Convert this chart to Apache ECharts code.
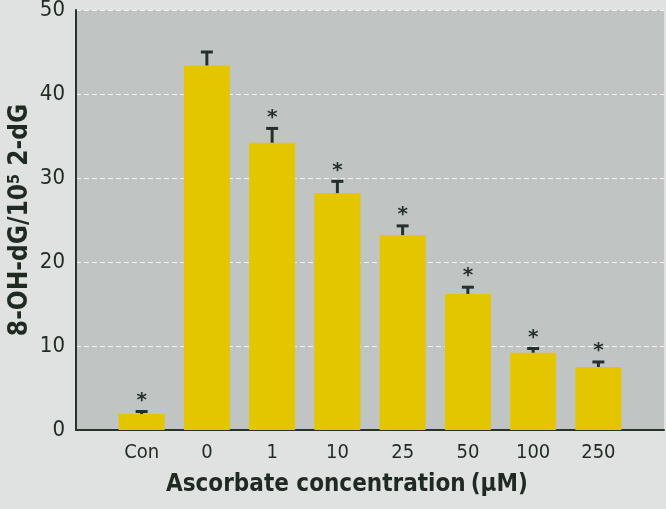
<!DOCTYPE html>
<html>
<head>
<meta charset="utf-8">
<style>
  html, body { margin: 0; padding: 0; background: #dfe2e1; }
  #chart { width: 666px; height: 509px; }
</style>
<script src="https://cdn.jsdelivr.net/npm/echarts@6/dist/echarts.min.js"></script>
</head>
<body>
<div id="chart"></div>
<script>
var categories = ['Con', '0', '1', '10', '25', '50', '100', '250'];
var means = [1.9, 43.4, 34.2, 28.2, 23.2, 16.2, 9.2, 7.5];
var upper = [2.2, 45.0, 35.9, 29.6, 24.3, 17.0, 9.7, 8.1];
var marked = [1, 0, 1, 1, 1, 1, 1, 1];

var narrow = "'Liberation Sans Narrow', 'DejaVu Sans Condensed', sans-serif";
var ink = '#1f2b22';

var chart = echarts.init(document.getElementById('chart'));

var errData = categories.map(function (c, i) {
    return [i, means[i], upper[i], marked[i]];
});

var option = {
    backgroundColor: '#dfe2e1',
    animation: false,
    title: {
        left: 161,
        top: 468,
        text: '{b|Ascorbate concentration} {n|(μM)}',
        textStyle: {
            rich: {
                b: { fontFamily: narrow, fontWeight: 'bold', fontSize: 24, color: ink },
                n: { fontFamily: narrow, fontSize: 24, color: ink }
            }
        }
    },
    grid: [
        { left: 76, right: 2, top: 10, bottom: 79, show: true, backgroundColor: '#c0c5c4', borderWidth: 0, outerBoundsMode: 'none' },
        { left: 109, right: 35, top: 10, bottom: 79, outerBoundsMode: 'none' }
    ],
    xAxis: [
        {
            type: 'value', gridIndex: 0, min: 0, max: 1,
            axisLine: { show: true, lineStyle: { color: '#26352a', width: 2 } },
            axisTick: { show: false }, axisLabel: { show: false }, splitLine: { show: false }
        },
        {
            type: 'category', gridIndex: 1, data: categories,
            axisLine: { show: false }, axisTick: { show: false },
            axisLabel: { fontFamily: narrow, fontSize: 20, color: ink, margin: 13 }
        }
    ],
    yAxis: [
        {
            type: 'value', gridIndex: 0, min: 0, max: 50, interval: 10,
            axisLine: { show: true, lineStyle: { color: '#26352a', width: 2 } },
            axisTick: { show: false },
            axisLabel: { fontFamily: narrow, fontSize: 22, color: ink, margin: 11 },
            splitLine: { show: true, lineStyle: { color: '#f2f4f3', type: [5, 3], width: 1 } },
            name: '{a|8-OH-dG/10}{s|5}{a| 2-dG}',
            nameLocation: 'middle',
            nameRotate: 90,
            nameGap: 42,
            nameMoveOverlap: false,
            nameTextStyle: {
                rich: {
                    a: { fontFamily: narrow, fontWeight: 'bold', fontSize: 26, color: ink },
                    s: { fontFamily: narrow, fontWeight: 'bold', fontSize: 16, color: ink, verticalAlign: 'top', padding: [0, 0, 11, 0] }
                }
            }
        },
        {
            type: 'value', gridIndex: 1, min: 0, max: 50, interval: 10, show: false
        }
    ],
    series: [
        {
            type: 'bar',
            xAxisIndex: 1, yAxisIndex: 1,
            data: means,
            barWidth: 46,
            itemStyle: { color: '#e3c500' },
            z: 3
        },
        {
            type: 'custom',
            xAxisIndex: 1, yAxisIndex: 1,
            data: errData,
            z: 4,
            renderItem: function (params, api) {
                var x = api.coord([api.value(0), 0])[0];
                var yTop = api.coord([api.value(0), api.value(1)])[1];
                var yCap = api.coord([api.value(0), api.value(2)])[1];
                var children = [
                    { type: 'line', shape: { x1: x, y1: yTop, x2: x, y2: yCap }, style: { stroke: '#26302a', lineWidth: 3 } },
                    { type: 'line', shape: { x1: x - 6, y1: yCap, x2: x + 6, y2: yCap }, style: { stroke: '#26302a', lineWidth: 3 } }
                ];
                if (api.value(3)) {
                    children.push({
                        type: 'text',
                        style: {
                            text: '*', x: x, y: yCap - 11,
                            fontFamily: 'DejaVu Sans', fontWeight: 'bold', fontSize: 20, fill: '#26302a',
                            align: 'center', verticalAlign: 'middle'
                        }
                    });
                }
                return { type: 'group', children: children };
            }
        }
    ]
};

chart.setOption(option);
</script>
</body>
</html>
